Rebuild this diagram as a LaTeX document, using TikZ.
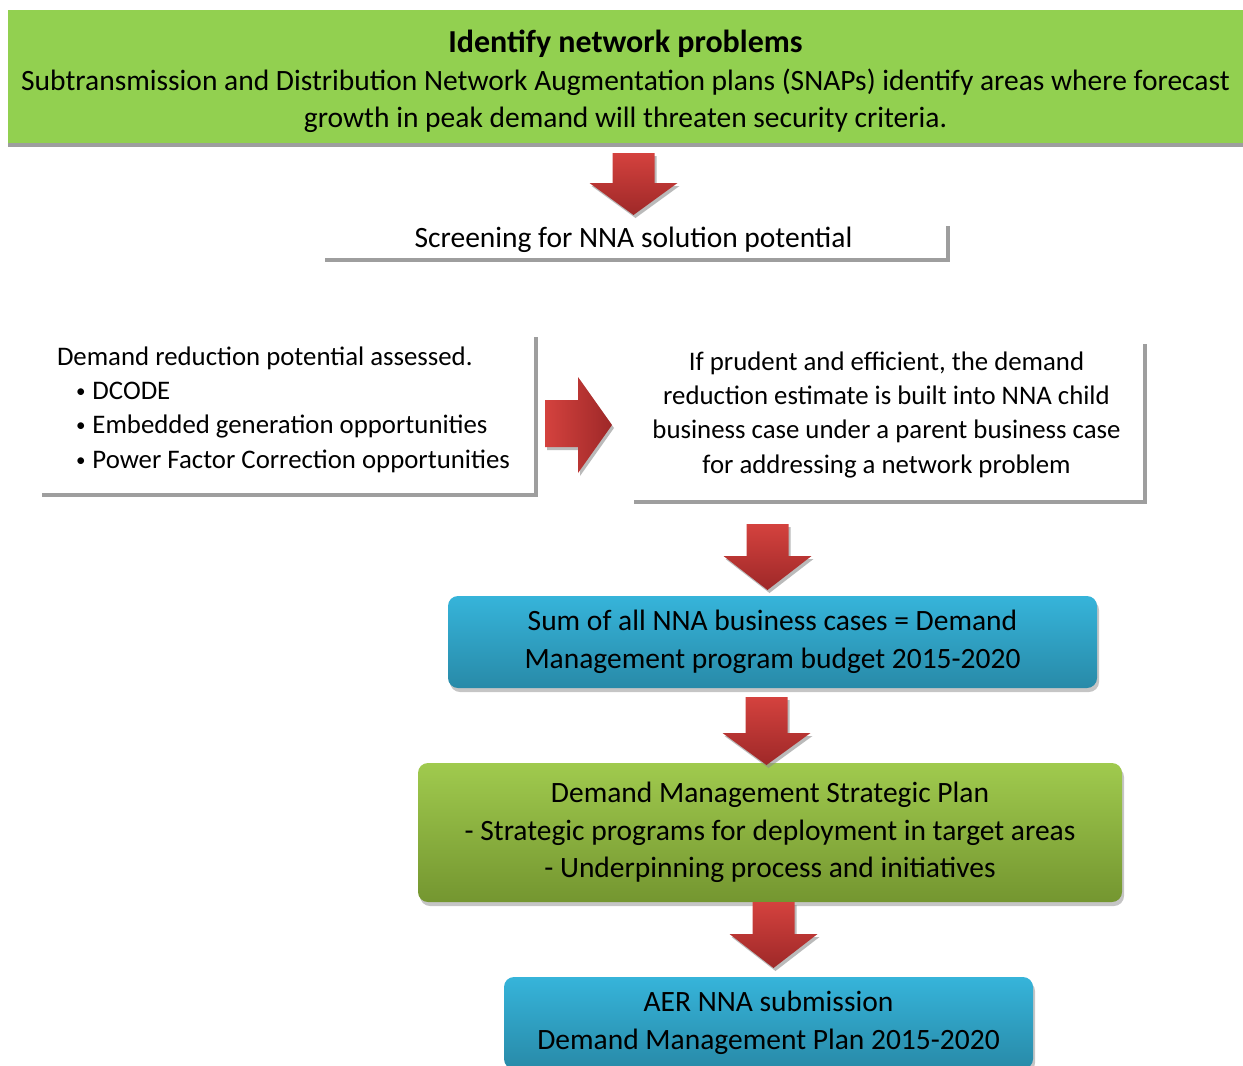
\documentclass[tikz,border=0pt]{standalone}
\usepackage{fontspec}
\setmainfont{Carlito}
\usetikzlibrary{shadows}

\definecolor{leafgreen}{RGB}{146,208,80}
\definecolor{arrowtop}{RGB}{212,66,62}
\definecolor{arrowbot}{RGB}{158,40,40}
\definecolor{skytop}{RGB}{54,180,218}
\definecolor{skybot}{RGB}{40,138,168}
\definecolor{olivetop}{RGB}{160,202,78}
\definecolor{olivebot}{RGB}{116,150,48}
\definecolor{shadowgray}{RGB}{158,158,158}

% down block arrow: centre x, top y, head y, tip y
\newcommand{\bigdown}[4]{%
  \path [redarrow] (#1-21,#2) -- (#1+21,#2) -- (#1+21,#3) -- (#1+44,#3)
    -- (#1,#4) -- (#1-44,#3) -- (#1-21,#3) -- cycle;}
% small bullet for the list
\newcommand{\listdot}{\hspace*{19pt}\raisebox{2pt}{\fontsize{19}{19}\selectfont\textbullet}\hspace{7pt}}

\begin{document}
\begin{tikzpicture}[x=1pt,y=-1pt,
  font=\fontsize{29.5}{37.5}\selectfont,
  flatshadow/.style={drop shadow={shadow xshift=#1,shadow yshift=-4pt,
      fill=shadowgray,opacity=1}},
  whitebox/.style={fill=white,inner sep=0pt,flatshadow=4pt,
      font=\fontsize{26.8}{34.3}\selectfont},
  softbox/.style={rounded corners=10pt,inner sep=0pt,align=center,
      drop shadow={shadow xshift=2pt,shadow yshift=-4pt,fill=black!45,opacity=.5}},
  skybox/.style={softbox,top color=skytop,bottom color=skybot},
  olivebox/.style={softbox,top color=olivetop,bottom color=olivebot},
  redarrow/.style={top color=arrowtop,bottom color=arrowbot,
      drop shadow={shadow xshift=2pt,shadow yshift=-3pt,fill=black!45,opacity=.6}}]
\useasboundingbox (0,0) rectangle (1243,1066);

% boxes
\node [fill=leafgreen,inner sep=0pt,align=center,minimum width=1235,minimum height=133,
  flatshadow=0pt] (problems) at (625.5,76.5)
  {\rule{0pt}{33pt}{\fontsize{32}{37.5}\selectfont\bfseries Identify network problems}\\
   Subtransmission and Distribution Network Augmentation plans (SNAPs) identify areas where forecast\\
   growth in peak demand will threaten security criteria.};
\node [whitebox,minimum width=625,minimum height=36,
  font=\fontsize{29.5}{37.5}\selectfont] (screening) at (633.5,240)
  {Screening for NNA solution potential};
\node [whitebox,minimum width=496,minimum height=160,text width=458,
  align=flush left] (assessed) at (286,413)
  {Demand reduction potential assessed.\\
   \listdot DCODE\\
   \listdot Embedded generation opportunities\\
   \listdot Power Factor Correction opportunities\rule[-11pt]{0pt}{0pt}};
\node [whitebox,minimum width=513,minimum height=160,align=center] (childcase) at (886.5,420)
  {If prudent and efficient, the demand\\
   reduction estimate is built into NNA child\\
   business case under a parent business case\\
   for addressing a network problem\rule[-15pt]{0pt}{0pt}};
\node [skybox,minimum width=649,minimum height=92] (budget) at (772.5,642)
  {Sum of all NNA business cases = Demand\\
   Management program budget 2015-2020};
\node [olivebox,minimum width=704,minimum height=139] (strategic) at (770,832.5)
  {Demand Management Strategic Plan\\
   - Strategic programs for deployment in target areas\\
   - Underpinning process and initiatives};
\node [skybox,minimum width=529,minimum height=92] (submission) at (768.5,1023)
  {AER NNA submission\\
   Demand Management Plan 2015-2020};

% arrows
\bigdown{633.5}{153}{183}{215}
\bigdown{767.5}{524}{556}{590}
\bigdown{766.5}{697}{733}{765}
\bigdown{773.5}{902}{934}{968}
\path [redarrow,left color=arrowtop,right color=arrowbot]
  (545,400) -- (578,400) -- (578,377) -- (612,425) -- (578,473) -- (578,447)
  -- (545,447) -- cycle;
\end{tikzpicture}
\end{document}
